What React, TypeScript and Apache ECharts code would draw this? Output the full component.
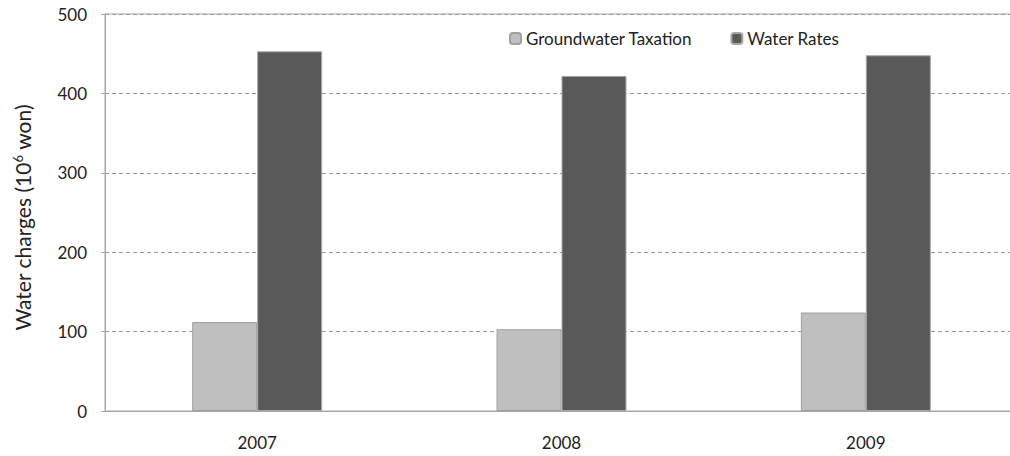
import React, { useEffect, useRef } from "react";
import * as echarts from "echarts";

const years = ["2007", "2008", "2009"];
const groundwaterTaxation = [112, 103, 124];
const waterRates = [453, 422, 448];
const yTicks = { min: 0, max: 500, interval: 100 };

export default function App() {
  const ref = useRef<HTMLDivElement>(null);
  useEffect(() => {
    if (!ref.current) return;
    const chart = echarts.init(ref.current, undefined, { renderer: "svg" });
    const font = "Lato, 'Open Sans', sans-serif";
    chart.setOption({
      animation: false,
      backgroundColor: "#ffffff",
      textStyle: { fontFamily: font },
      grid: {
        left: 105,
        right: 0,
        top: 14,
        bottom: 45,
        show: true,
        borderColor: "#a6a6a6",
        borderWidth: 1,
      },
      legend: {
        left: 504,
        top: 25,
        itemWidth: 11,
        itemHeight: 11,
        itemGap: 38,
        textStyle: { fontSize: 17, color: "#222", fontFamily: font },
        data: ["Groundwater Taxation", "Water Rates"],
      },
      xAxis: {
        type: "category",
        data: years,
        axisLine: { lineStyle: { color: "#a6a6a6" } },
        axisTick: { show: false },
        axisLabel: { margin: 23, fontSize: 17, color: "#222" },
      },
      yAxis: {
        type: "value",
        min: yTicks.min,
        max: yTicks.max,
        interval: yTicks.interval,
        axisLine: { show: true, lineStyle: { color: "#a6a6a6" } },
        axisTick: { show: true, length: 4, lineStyle: { color: "#a6a6a6" } },
        axisLabel: { margin: 18, fontSize: 17, color: "#222" },
        splitLine: { lineStyle: { color: "#9a9a9a", type: [4, 3] } },
        name: "{a|Water charges (10}{s|6}{a| won)}",
        nameLocation: "middle",
        nameGap: 71,
        nameTextStyle: {
          padding: [0, 10, 0, 0],
          rich: {
            a: { fontSize: 21, color: "#222", fontFamily: font },
            s: { fontSize: 13, color: "#222", fontFamily: font, verticalAlign: "top", padding: [0, 0, 10, 0] },
          },
        },
      },
      series: [
        {
          name: "Groundwater Taxation",
          type: "bar",
          data: groundwaterTaxation,
          barGap: "0%",
          barCategoryGap: "57.3%",
          itemStyle: { color: "#bfbfbf", borderColor: "#a0a0a0", borderWidth: 1 },
        },
        {
          name: "Water Rates",
          type: "bar",
          data: waterRates,
          itemStyle: { color: "#595959", borderColor: "#a6a6a6", borderWidth: 1 },
        },
      ],
    });
    return () => chart.dispose();
  }, []);
  return (
    <div style={{ position: "absolute", left: 0, top: 0, width: 1010, height: 456, overflow: "hidden" }}>
      <div ref={ref} style={{ width: 1018, height: 456 }} />
    </div>
  );
}
